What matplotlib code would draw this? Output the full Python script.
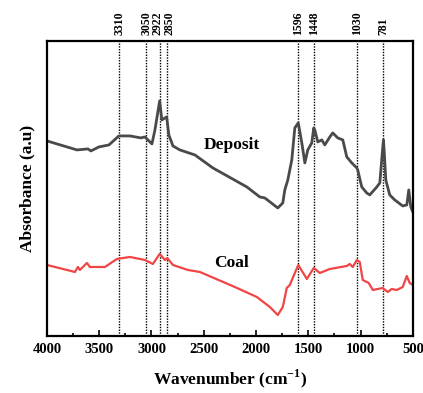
import matplotlib
matplotlib.use("Agg")
import matplotlib.pyplot as plt
from matplotlib.ticker import MultipleLocator

plt.rcParams["font.family"] = ["Liberation Serif", "DejaVu Serif"]
plt.rcParams["font.weight"] = "bold"
plt.rcParams["mathtext.fontset"] = "custom"
plt.rcParams["mathtext.rm"] = "Liberation Serif:bold"
plt.rcParams["mathtext.bf"] = "Liberation Serif:bold"

# Deposit spectrum (wavenumber cm-1, absorbance a.u.)
deposit_wn = [4000, 3713, 3608, 3579, 3503, 3407, 3312, 3207, 3101, 3063,
              2996, 2967, 2922, 2901, 2855, 2834, 2795, 2729, 2585, 2413,
              2088, 1964, 1916, 1792, 1744, 1725, 1696, 1658, 1629, 1596,
              1562, 1533, 1505, 1467, 1448, 1438, 1409, 1371, 1342, 1294,
              1266, 1218, 1170, 1132, 1084, 1036, 1027, 989, 941, 912,
              845, 816, 790, 781, 772, 759, 721, 673, 597, 558,
              539, 520, 500]
deposit_abs = [1.99, 1.90, 1.91, 1.89, 1.93, 1.95, 2.04, 2.04, 2.02, 2.03,
               1.96, 2.10, 2.39, 2.20, 2.23, 2.05, 1.94, 1.90, 1.85, 1.72,
               1.53, 1.43, 1.42, 1.32, 1.37, 1.50, 1.60, 1.80, 2.12, 2.17,
               1.97, 1.77, 1.90, 1.97, 2.12, 2.10, 1.98, 2.00, 1.95, 2.03,
               2.07, 2.02, 2.00, 1.83, 1.77, 1.72, 1.70, 1.53, 1.47, 1.45,
               1.53, 1.57, 1.90, 2.00, 1.85, 1.60, 1.45, 1.40, 1.34, 1.35,
               1.50, 1.33, 1.28]

# Coal spectrum
coal_wn = [4000, 3732, 3704, 3685, 3618, 3589, 3445, 3331, 3207, 3063,
           2987, 2922, 2872, 2850, 2795, 2652, 2537, 2203, 1992, 1868,
           1792, 1744, 1706, 1677, 1596, 1514, 1448, 1390, 1294, 1132,
           1103, 1075, 1036, 1008, 979, 922, 883, 788, 740, 702,
           654, 597, 558, 530, 500]
coal_abs = [0.75, 0.68, 0.73, 0.70, 0.77, 0.73, 0.73, 0.81, 0.83, 0.80,
            0.76, 0.86, 0.80, 0.82, 0.75, 0.70, 0.68, 0.53, 0.43, 0.33,
            0.25, 0.33, 0.52, 0.55, 0.75, 0.61, 0.72, 0.67, 0.71, 0.74,
            0.76, 0.73, 0.80, 0.78, 0.60, 0.57, 0.50, 0.52, 0.48, 0.51,
            0.50, 0.53, 0.64, 0.57, 0.55]

peaks = [3310, 3050, 2922, 2850, 1596, 1448, 1030, 781]
peak_label_shift = [0, 0, 22, -20, 0, 0, 0, 0]

fig = plt.figure(figsize=(4.23, 3.93), dpi=100)
ax = fig.add_axes([0.111, 0.145, 0.865, 0.751])

for p in peaks:
    ax.axvline(p, color="black", linestyle=(0, (1, 1)), linewidth=1.0, zorder=1)

ax.plot(deposit_wn, deposit_abs, color="#4a4a4a", linewidth=2.0, zorder=2)
ax.plot(coal_wn, coal_abs, color="#f04545", linewidth=1.6, zorder=2)

ax.text(2231, 1.95, "Deposit", fontsize=12.5, fontweight="bold", ha="center", va="center")
ax.text(2231, 0.77, "Coal", fontsize=12.5, fontweight="bold", ha="center", va="center")

trans = ax.get_xaxis_transform()
for p, s in zip(peaks, peak_label_shift):
    ax.text(p + s, 1.02, str(p), transform=trans, rotation=90, fontsize=8.5,
            fontweight="bold", ha="center", va="bottom")

ax.set_xlim(4000, 500)
ax.set_ylim(0.04, 2.99)
ax.xaxis.set_major_locator(MultipleLocator(500))
ax.xaxis.set_minor_locator(MultipleLocator(250))
ax.tick_params(axis="x", which="both", direction="in", labelsize=10.5, width=1.2, pad=5)
ax.tick_params(axis="x", which="major", length=4)
ax.tick_params(axis="x", which="minor", length=2.5)
ax.set_yticks([])
for lab in ax.get_xticklabels():
    lab.set_fontweight("bold")
for sp in ax.spines.values():
    sp.set_linewidth(1.6)

ax.set_xlabel("Wavenumber (cm$^{-1}$)", fontsize=12.5, fontweight="bold", labelpad=8)
ax.set_ylabel("Absorbance (a.u)", fontsize=12.5, fontweight="bold", labelpad=8)

fig.savefig("out.png", dpi=100)
